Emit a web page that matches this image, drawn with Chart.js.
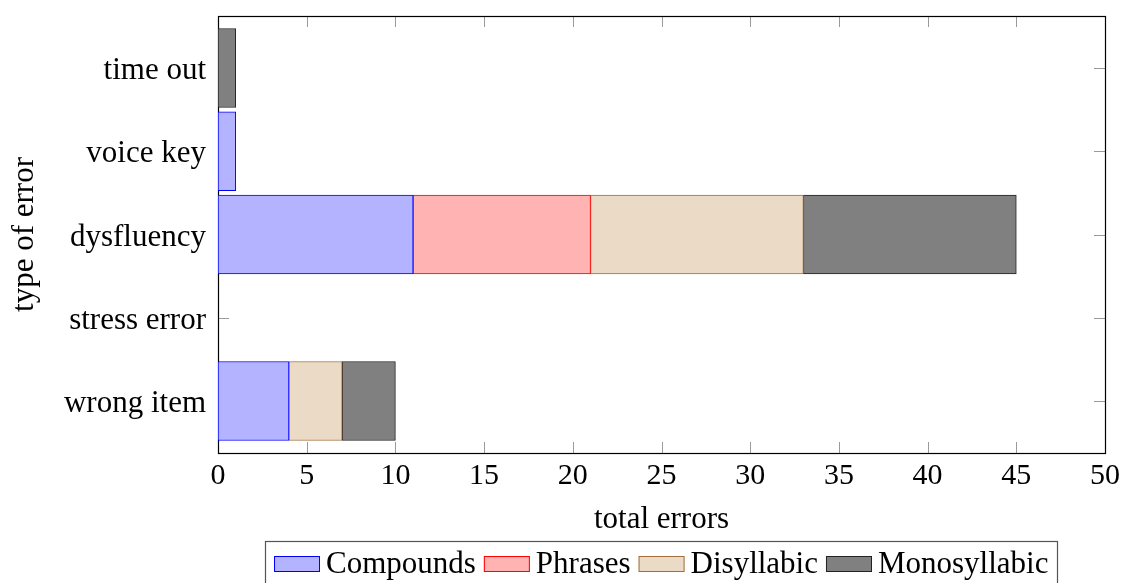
<!DOCTYPE html>
<html>
<head>
<meta charset="utf-8">
<script src="https://cdn.jsdelivr.net/npm/chart.js@4.4.1/dist/chart.umd.min.js"></script>
<style>
  html, body { margin: 0; padding: 0; background: #fff; }
</style>
</head>
<body>
<canvas id="errors_chart" width="1123" height="583"></canvas>
<script>
// error types, bottom to top
const errorTypes   = ['wrong item', 'stress error', 'dysfluency', 'voice key', 'time out'];
const compounds    = [4, 0, 11, 1, 0];
const phrases      = [0, 0, 10, 0, 0];
const disyllabic   = [3, 0, 12, 0, 0];
const monosyllabic = [3, 0, 12, 0, 1];
const xTickValues  = [0, 5, 10, 15, 20, 25, 30, 35, 40, 45, 50];

const FONT = '"Liberation Serif", "Times New Roman", serif';

function toPoints (values) {
	return values.map((v, i) => ({x: v, y: i}));
}

// box round the plot with small inward ticks on every side
const framePlugin = {
	id: 'frame',
	beforeDatasetsDraw (chart) {
		const {ctx, chartArea: a, scales} = chart;
		const tick = 11;
		ctx.save();
		ctx.strokeStyle = '#9a9a9a';
		ctx.lineWidth = 1;
		ctx.beginPath();
		xTickValues.forEach(v => {
			const px = Math.round(scales.x.getPixelForValue(v)) + 0.5;
			ctx.moveTo(px, a.top);    ctx.lineTo(px, a.top + tick);
			ctx.moveTo(px, a.bottom); ctx.lineTo(px, a.bottom - tick);
		});
		errorTypes.forEach((_, i) => {
			const py = Math.round(scales.y.getPixelForValue(i)) + 0.5;
			ctx.moveTo(a.left, py);  ctx.lineTo(a.left + tick, py);
			ctx.moveTo(a.right, py); ctx.lineTo(a.right - tick, py);
		});
		ctx.stroke();
		ctx.strokeStyle = '#000';
		ctx.lineWidth = 1.2;
		ctx.strokeRect(Math.round(a.left) + 0.5, Math.round(a.top) + 0.5,
			Math.round(a.right - a.left), Math.round(a.bottom - a.top));
		ctx.restore();
	}
};

// legend in a single framed row under the axis title
const boxLegend = {
	id: 'boxLegend',
	afterDraw (chart) {
		const ctx = chart.ctx;
		const a = chart.chartArea;
		ctx.save();
		ctx.font = '31px ' + FONT;
		const sw = 46, sh = 16, gapText = 6, gapItem = 8, pad = 9;
		const items = chart.data.datasets.map(ds => ({
			label : ds.label,
			fill  : ds.backgroundColor,
			stroke: ds.borderColor,
			w     : ctx.measureText(ds.label).width,
		}));
		const total = pad * 2
			+ items.reduce((s, it) => s + sw + gapText + it.w, 0)
			+ gapItem * (items.length - 1);
		let x = Math.round((a.left + a.right) / 2 - total / 2);
		const top = 541, cy = 564;
		ctx.strokeStyle = '#555';
		ctx.lineWidth = 1.2;
		ctx.strokeRect(x + 0.5, top + 0.5, Math.round(total), 60);
		x += pad;
		ctx.textBaseline = 'middle';
		items.forEach(it => {
			ctx.fillStyle = it.fill;
			ctx.fillRect(x, cy - sh / 2, sw, sh);
			ctx.strokeStyle = it.stroke;
			ctx.lineWidth = 1;
			ctx.strokeRect(x + 0.5, cy - sh / 2 + 0.5, sw - 1, sh - 1);
			x += sw + gapText;
			ctx.fillStyle = '#000';
			ctx.fillText(it.label, x, cy + 1);
			x += it.w + gapItem;
		});
		ctx.restore();
	}
};

const barDefaults = {
	borderWidth  : 1,
	borderSkipped: false,
	barThickness : 79,
};

new Chart('errors_chart', {
	type: 'bar',
	data: {
		datasets: [
			{label: 'Compounds',    data: toPoints(compounds),    backgroundColor: '#b3b3ff', borderColor: '#0000ff', ...barDefaults},
			{label: 'Phrases',      data: toPoints(phrases),      backgroundColor: '#ffb3b3', borderColor: '#ff0000', ...barDefaults},
			{label: 'Disyllabic',   data: toPoints(disyllabic),   backgroundColor: '#ebdac6', borderColor: '#a0703c', ...barDefaults},
			{label: 'Monosyllabic', data: toPoints(monosyllabic), backgroundColor: '#808080', borderColor: '#222222', ...barDefaults},
		],
	},
	options: {
		responsive: false,
		animation : false,
		devicePixelRatio: 1,
		indexAxis : 'y',
		layout    : {padding: {top: 16, right: 18, left: 0, bottom: 0}},
		plugins   : {
			legend : {display: false},
			tooltip: {enabled: false},
		},
		scales: {
			x: {
				type   : 'linear',
				stacked: true,
				min    : 0,
				max    : 50,
				grid   : {display: false, drawTicks: false},
				border : {display: false},
				afterBuildTicks (scale) {
					scale.ticks = xTickValues.map(v => ({value: v}));
				},
				afterFit (scale) {
					scale.height = 130;
					scale.paddingLeft = 0;
					scale.paddingRight = 0;
				},
				ticks: {
					color  : '#000',
					padding: 5,
					font   : {family: FONT, size: 30},
				},
				title: {
					display: true,
					text   : 'total errors',
					color  : '#000',
					font   : {family: FONT, size: 31},
					padding: {top: 0, bottom: 45},
				},
			},
			y: {
				type   : 'linear',
				stacked: true,
				offset : false,
				min    : -0.625,
				max    : errorTypes.length - 1 + 0.625,
				grid   : {display: false, drawTicks: false, offset: false},
				border : {display: false},
				afterBuildTicks (scale) {
					scale.ticks = errorTypes.map((_, i) => ({value: i}));
				},
				afterFit (scale) {
					scale.width = 218;
					scale.paddingTop = 0;
					scale.paddingBottom = 0;
				},
				ticks: {
					color      : '#000',
					padding    : 12,
					labelOffset: 3,
					font       : {family: FONT, size: 31},
					callback   : v => errorTypes[v],
				},
				title: {
					display: true,
					text   : 'type of error',
					color  : '#000',
					font   : {family: FONT, size: 31},
					padding: {top: 6, bottom: 0},
				},
			},
		},
	},
	plugins: [framePlugin, boxLegend],
});
</script>
</body>
</html>
